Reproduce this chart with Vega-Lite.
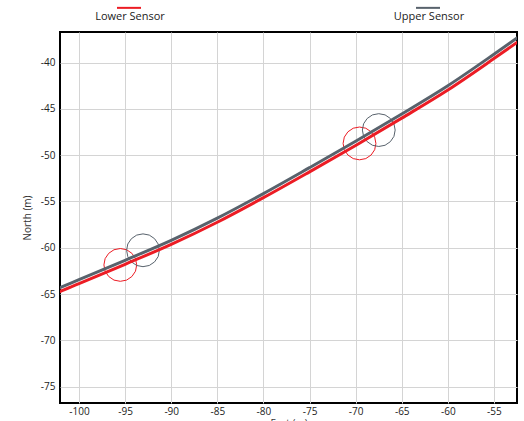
{
  "$schema": "https://vega.github.io/schema/vega-lite/v6.json",
  "width": 457,
  "height": 371,
  "autosize": {"type": "none"},
  "padding": {"left": 60, "top": 32, "right": 7, "bottom": 18},
  "config": {
    "font": "Open Sans",
    "view": {"stroke": "#000000", "strokeWidth": 2},
    "axis": {
      "grid": true,
      "gridColor": "#d4d4d4",
      "gridWidth": 1,
      "ticks": false,
      "domain": false,
      "labelFont": "Open Sans",
      "labelFontSize": 10,
      "labelColor": "#222222",
      "labelExpr": "'' + datum.value",
      "titleFont": "Open Sans",
      "titleFontSize": 10,
      "titleFontWeight": "normal",
      "titleColor": "#333333"
    }
  },
  "layer": [
    {
      "data": {
        "values": [
          {"east": -95.52, "north": -61.85, "sensor": "Lower Sensor"},
          {"east": -93.06, "north": -60.27, "sensor": "Upper Sensor"},
          {"east": -69.58, "north": -48.73, "sensor": "Lower Sensor"},
          {"east": -67.49, "north": -47.29, "sensor": "Upper Sensor"}
        ]
      },
      "mark": {"type": "point", "filled": false, "size": 1075, "strokeWidth": 1, "opacity": 1, "clip": true},
      "encoding": {
        "x": {"field": "east", "type": "quantitative"},
        "y": {"field": "north", "type": "quantitative"},
        "color": {"field": "sensor", "type": "nominal"}
      }
    },
    {
      "data": {
        "values": [
          {"east": -103, "north": -64.7, "sensor": "Upper Sensor"},
          {"east": -102.06, "north": -64.3, "sensor": "Upper Sensor"},
          {"east": -100, "north": -63.45, "sensor": "Upper Sensor"},
          {"east": -95, "north": -61.35, "sensor": "Upper Sensor"},
          {"east": -90, "north": -59.2, "sensor": "Upper Sensor"},
          {"east": -85, "north": -56.8, "sensor": "Upper Sensor"},
          {"east": -80, "north": -54.15, "sensor": "Upper Sensor"},
          {"east": -75, "north": -51.35, "sensor": "Upper Sensor"},
          {"east": -70, "north": -48.5, "sensor": "Upper Sensor"},
          {"east": -65, "north": -45.55, "sensor": "Upper Sensor"},
          {"east": -60, "north": -42.5, "sensor": "Upper Sensor"},
          {"east": -55, "north": -39.1, "sensor": "Upper Sensor"},
          {"east": -52.5, "north": -37.35, "sensor": "Upper Sensor"},
          {"east": -52, "north": -37.0, "sensor": "Upper Sensor"},
          {"east": -103, "north": -65.12, "sensor": "Lower Sensor"},
          {"east": -102.06, "north": -64.72, "sensor": "Lower Sensor"},
          {"east": -100, "north": -63.88, "sensor": "Lower Sensor"},
          {"east": -95, "north": -61.78, "sensor": "Lower Sensor"},
          {"east": -90, "north": -59.63, "sensor": "Lower Sensor"},
          {"east": -85, "north": -57.24, "sensor": "Lower Sensor"},
          {"east": -80, "north": -54.59, "sensor": "Lower Sensor"},
          {"east": -75, "north": -51.8, "sensor": "Lower Sensor"},
          {"east": -70, "north": -48.95, "sensor": "Lower Sensor"},
          {"east": -65, "north": -46.0, "sensor": "Lower Sensor"},
          {"east": -60, "north": -42.96, "sensor": "Lower Sensor"},
          {"east": -55, "north": -39.57, "sensor": "Lower Sensor"},
          {"east": -52.5, "north": -37.83, "sensor": "Lower Sensor"},
          {"east": -52, "north": -37.48, "sensor": "Lower Sensor"}
        ]
      },
      "mark": {"type": "line", "strokeWidth": 3, "interpolate": "monotone", "clip": true},
      "encoding": {
        "x": {
          "field": "east",
          "type": "quantitative",
          "title": "East (m)",
          "scale": {"domain": [-102.06, -52.5], "nice": false, "zero": false},
          "axis": {"values": [-100, -95, -90, -85, -80, -75, -70, -65, -60, -55], "labelPadding": 3, "titlePadding": 2}
        },
        "y": {
          "field": "north",
          "type": "quantitative",
          "title": "North (m)",
          "scale": {"domain": [-76.76, -36.7], "nice": false, "zero": false},
          "axis": {"values": [-75, -70, -65, -60, -55, -50, -45, -40], "labelPadding": 5, "titlePadding": 8}
        },
        "color": {
          "field": "sensor",
          "type": "nominal",
          "scale": {"domain": ["Lower Sensor", "Upper Sensor"], "range": ["#ec1c24", "#58626c"]},
          "legend": {
            "orient": "none",
            "legendX": 56,
            "legendY": -34.5,
            "direction": "horizontal",
            "title": null,
            "padding": 0,
            "symbolType": "M-1,-0.22L1,-0.22",
            "symbolSize": 576,
            "symbolStrokeWidth": 2,
            "labelAlign": "center",
            "labelBaseline": "top",
            "labelOffset": -12,
            "labelFont": "Open Sans",
            "labelFontSize": 11,
            "labelColor": "#222222",
            "columnPadding": 228
          }
        }
      }
    }
  ]
}
